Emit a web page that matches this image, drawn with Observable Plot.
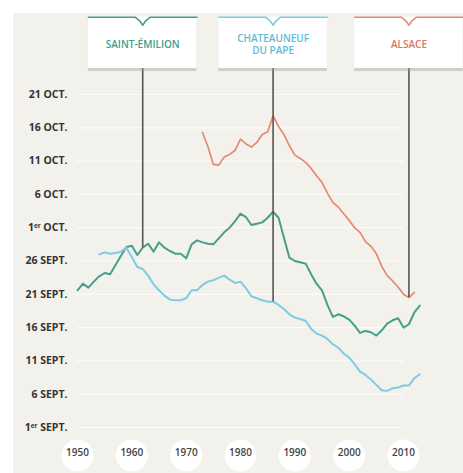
<!DOCTYPE html>
<html><head><meta charset="utf-8">
<script src="https://cdn.jsdelivr.net/npm/d3@7"></script>
<script src="https://cdn.jsdelivr.net/npm/@observablehq/plot@0.6"></script>
<style>
html,body{margin:0;padding:0;background:#fff;width:463px;height:473px;overflow:hidden}
#chart{position:absolute;left:13px;top:13px}
</style></head><body><div id="chart"></div>
<script>
// Harvest date, in days after 1st September
const stEmilionStart = 1950;
const stEmilion = [20.6,21.6,21.0,21.9,22.7,23.2,23.0,24.4,25.8,27.1,
  27.3,25.9,27.0,27.6,26.4,27.8,27.0,26.5,26.1,26.1,
  25.4,27.5,28.1,27.8,27.6,27.5,28.4,29.3,30.0,31.0,
  32.1,31.6,30.4,30.6,30.8,31.5,32.4,31.5,28.5,25.5,
  25.0,24.8,24.6,23.0,21.6,20.6,18.4,16.6,17.0,16.7,
  16.2,15.3,14.2,14.5,14.3,13.8,14.6,15.6,16.1,16.4,
  15.0,15.5,17.3,18.3];
const chateauneufStart = 1954;
const chateauneuf = [26.0,26.3,26.1,26.2,26.4,27.0,25.6,24.1,23.8,22.8,
  21.5,20.6,19.8,19.2,19.1,19.1,19.4,20.6,20.6,21.4,
  21.9,22.1,22.5,22.8,22.2,21.7,21.9,20.9,19.7,19.4,
  19.1,18.9,18.9,18.4,17.8,17.0,16.5,16.3,16.0,14.8,
  14.1,13.8,13.3,12.5,12.0,11.1,10.5,9.5,8.4,7.9,
  7.2,6.4,5.6,5.5,5.9,6.0,6.3,6.3,7.4,8.0];
const alsaceStart = 1973;
const alsace = [44.3,42.2,39.5,39.4,40.6,41.0,41.6,43.3,42.6,42.1,
  42.8,44.0,44.4,46.8,45.2,44.0,42.3,40.9,40.4,39.8,
  38.9,37.8,36.8,35.2,33.8,33.1,32.1,31.1,30.0,29.3,
  27.9,27.2,26.1,24.2,22.8,22.0,21.1,20.0,19.5,20.3];

const yTicks = [0,5,10,15,20,25,30,35,40,45,50];
const yTickLabels = ["1ᵉʳ SEPT.","6 SEPT.","11 SEPT.","16 SEPT.","21 SEPT.","26 SEPT.","1ᵉʳ OCT.","6 OCT.","11 OCT.","16 OCT.","21 OCT."];
const xTicks = [1950,1960,1970,1980,1990,2000,2010];

const calloutNames = ["SAINT-ÉMILION","CHATEAUNEUF\nDU PAPE","ALSACE"];
const calloutYears = [1962,1986,2011];
const seriesColors = ["#45a08a","#7fcbe0","#e58a70"];
const textColors = ["#3aa08b","#5cbcd6","#e0735c"];
const strokeWidths = [2, 2, 1.7];

const seriesList = [
  {start: stEmilionStart, values: stEmilion},
  {start: chateauneufStart, values: chateauneuf},
  {start: alsaceStart, values: alsace}
];
const rowsFor = s => s.values.map((v,i) => ({year: s.start + i, value: v}));
const seriesRows = seriesList.map(rowsFor);

const boxTop = 61.6, boxBottom = 53.9, halfWidth = 10;
const callouts = calloutNames.map((name,i) => {
  const s = seriesList[i];
  return {name, year: calloutYears[i], end: s.values[calloutYears[i]-s.start], color: textColors[i]};
});
const notch = callouts.flatMap((c,i) => [
  {k:i, x:c.year-halfWidth, y:boxTop},
  {k:i, x:c.year-1.4, y:boxTop},
  {k:i, x:c.year-0.5, y:boxTop-0.6},
  {k:i, x:c.year, y:boxTop-1.2},
  {k:i, x:c.year+0.5, y:boxTop-0.6},
  {k:i, x:c.year+1.4, y:boxTop},
  {k:i, x:c.year+halfWidth, y:boxTop}
]);

const chart = Plot.plot({
  width: 450, height: 460,
  marginLeft: 64, marginRight: 60, marginTop: 81, marginBottom: 46,
  x: {domain: [1950, 2010], axis: null},
  y: {domain: [0, 50], axis: null},
  style: {background: "#f3f1eb", fontFamily: "'Open Sans', sans-serif"},
  marks: [
    Plot.ruleY(yTicks, {stroke: "#ffffff", strokeWidth: 1.2, strokeOpacity: 0.8}),
    ...seriesRows.map((rows,i) => Plot.line(rows, {x: "year", y: "value", stroke: seriesColors[i], strokeWidth: strokeWidths[i], curve: "linear"})),
    Plot.ruleX(callouts, {x: "year", y1: "end", y2: boxBottom, stroke: "#555", strokeWidth: 1.6}),
    Plot.rect(callouts, {x1: d => d.year - halfWidth, x2: d => d.year + halfWidth, y1: boxBottom, y2: boxTop, fill: "#a09c94", fillOpacity: 0.4, dy: 3}),
    Plot.rect(callouts, {x1: d => d.year - halfWidth, x2: d => d.year + halfWidth, y1: boxBottom, y2: boxTop, fill: "#ffffff"}),
    Plot.line(notch, {x: "x", y: "y", z: "k", stroke: d => seriesColors[d.k], strokeWidth: 1.6}),
    Plot.text(callouts, {x: "year", y: (boxTop + boxBottom) / 2 - 0.2, text: "name", fill: "color", fontSize: 10, fontWeight: 600, lineHeight: 1.25}),
    Plot.text(yTicks, {frameAnchor: "left", y: d => d, text: (d,i) => yTickLabels[i], textAnchor: "end", dx: -10, fill: "#333", fontSize: 10.5, fontWeight: 700}),
    Plot.dot(xTicks, {x: d => d, frameAnchor: "bottom", dy: 28, r: 16, fill: "#ffffff", stroke: null}),
    Plot.text(xTicks, {x: d => d, frameAnchor: "bottom", dy: 28, text: d => String(d), fill: "#444", fontSize: 10, fontWeight: 600})
  ]
});
document.getElementById("chart").append(chart);
</script></body></html>
